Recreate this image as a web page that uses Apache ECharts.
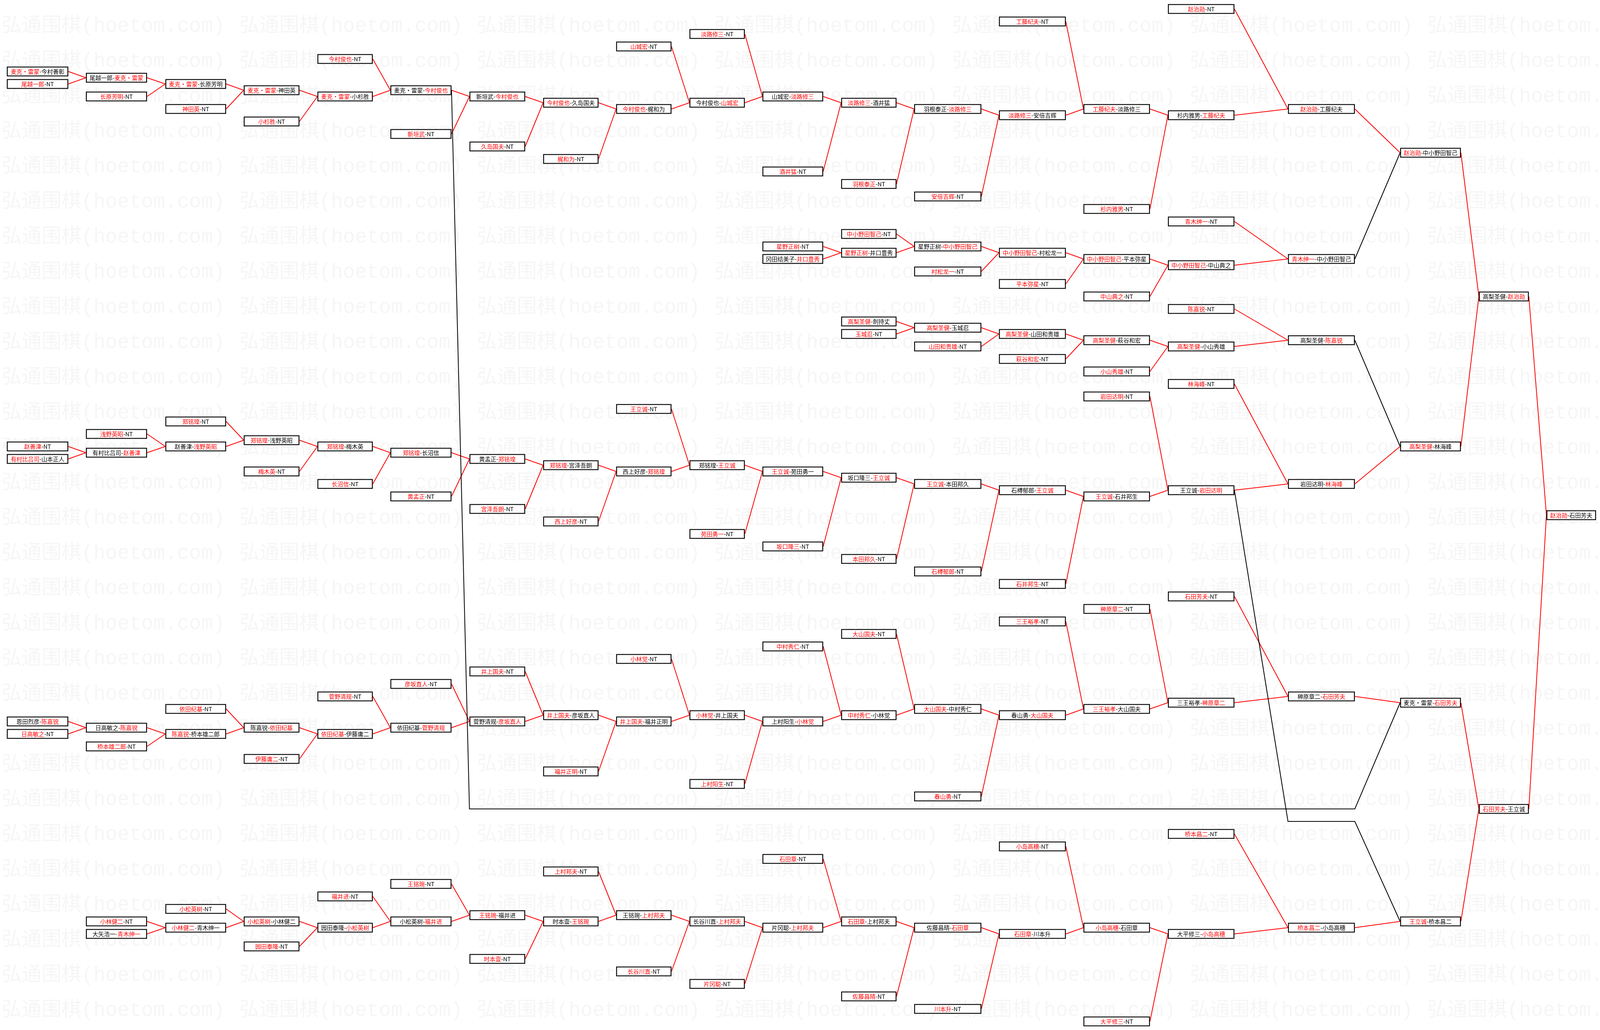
<!DOCTYPE html>
<html>
<head>
<meta charset="utf-8">
<script src="https://cdn.jsdelivr.net/npm/echarts@6/dist/echarts.min.js"></script>
<style>
html,body{margin:0;padding:0;background:#ffffff;overflow:hidden;}
#c{width:100vw;height:100vh;}
</style>
</head>
<body>
<div id="c"></div>
<script>
// ---------------- DATA ----------------
// round (column) of every match box
const rounds = [
0,0,1,1,2,2,3,3,4,4,5,5,6,6,7,7,8,8,9,9,10,10,11,11,12,12,13,13,14,14,15,15,16,
10,10,11,11,12,12,13,13,14,14,15,15,16,17,
11,11,12,12,13,13,14,14,15,15,16,
0,0,1,1,2,2,3,3,4,4,5,5,6,6,7,7,8,8,9,9,10,10,11,11,12,12,13,13,14,14,15,15,16,17,18,
0,0,1,1,2,2,3,3,4,4,5,5,6,6,7,7,8,8,9,9,10,10,11,11,12,12,13,13,14,14,15,15,16,17,
1,1,2,2,3,3,4,4,5,5,6,6,7,7,8,8,9,9,10,10,11,11,12,12,13,13,14,14,15,15,16,17,18,19
];
// vertical slot of every match box
const slots = [
10,12,11,14,12,16,13,18,14,8,13,20,14,22,15,24,16,6,15,4,14,26,15,28,16,30,17,2,16,32,17,0,16,
38,40,39,36,38,42,39,44,40,46,41,34,40,23,
50,52,51,54,52,56,53,58,54,48,53,
70,72,71,68,70,66,69,74,70,76,71,78,72,80,73,82,74,64,73,84,74,86,75,88,76,90,77,92,78,62,77,60,76,70,46,
114,116,115,118,116,112,115,120,116,110,115,108,114,106,113,122,114,104,113,124,114,102,113,100,112,126,113,98,112,96,111,94,110,111,
146,148,147,144,146,150,147,142,146,140,145,152,146,138,145,154,146,156,147,136,146,158,147,160,148,134,147,162,148,132,147,146,128,81
];
const labels = [
"麦克・雷蒙-今村善彰","尾越一郎-NT","尾越一郎-麦克・雷蒙","长原芳明-NT","麦克・雷蒙-长原芳明","神田英-NT","麦克・雷蒙-神田英","小杉胜-NT","麦克・雷蒙-小杉胜","今村俊也-NT","麦克・雷蒙-今村俊也","新垣武-NT","新垣武-今村俊也","久岛国夫-NT","今村俊也-久岛国夫","梶和为-NT","今村俊也-梶和为","山城宏-NT","今村俊也-山城宏","淡路修三-NT","山城宏-淡路修三","酒井猛-NT","淡路修三-酒井猛","羽根泰正-NT","羽根泰正-淡路修三","安倍吉辉-NT","淡路修三-安倍吉辉","工藤纪夫-NT","工藤纪夫-淡路修三","杉内雅男-NT","杉内雅男-工藤纪夫","赵治勋-NT","赵治勋-工藤纪夫",
"星野正树-NT","冈田结美子-井口豊秀","星野正树-井口豊秀","中小野田智己-NT","星野正树-中小野田智己","村松龙一-NT","中小野田智己-村松龙一","平本弥星-NT","中小野田智己-平本弥星","中山典之-NT","中小野田智己-中山典之","青木绅一-NT","青木绅一-中小野田智己","赵治勋-中小野田智己",
"高梨圣健-劍持丈","玉城忍-NT","高梨圣健-玉城忍","山田和贵雄-NT","高梨圣健-山田和贵雄","萩谷和宏-NT","高梨圣健-萩谷和宏","小山秀雄-NT","高梨圣健-小山秀雄","陈嘉锐-NT","高梨圣健-陈嘉锐",
"赵善津-NT","有村比吕司-山本正人","有村比吕司-赵善津","浅野英昭-NT","赵善津-浅野英昭","郑铭瑝-NT","郑铭瑝-浅野英昭","梅木英-NT","郑铭瑝-梅木英","长沼信-NT","郑铭瑝-长沼信","黄孟正-NT","黄孟正-郑铭瑝","宫泽吾朗-NT","郑铭瑝-宫泽吾朗","西上好彦-NT","西上好彦-郑铭瑝","王立诚-NT","郑铭瑝-王立诚","苑田勇一-NT","王立诚-苑田勇一","坂口隆三-NT","坂口隆三-王立诚","本田邦久-NT","王立诚-本田邦久","石榑郁郎-NT","石榑郁郎-王立诚","石井邦生-NT","王立诚-石井邦生","岩田达明-NT","王立诚-岩田达明","林海峰-NT","岩田达明-林海峰","高梨圣健-林海峰","高梨圣健-赵治勋",
"恩田烈彦-陈嘉锐","日高敏之-NT","日高敏之-陈嘉锐","桥本雄二郎-NT","陈嘉锐-桥本雄二郎","依田纪基-NT","陈嘉锐-依田纪基","伊藤庸二-NT","依田纪基-伊藤庸二","菅野清规-NT","依田纪基-菅野清规","彦坂直人-NT","菅野清规-彦坂直人","井上国夫-NT","井上国夫-彦坂直人","福井正明-NT","井上国夫-福井正明","小林觉-NT","小林觉-井上国夫","上村阳生-NT","上村阳生-小林觉","中村秀仁-NT","中村秀仁-小林觉","大山国夫-NT","大山国夫-中村秀仁","春山勇-NT","春山勇-大山国夫","三王裕孝-NT","三王裕孝-大山国夫","榊原章二-NT","三王裕孝-榊原章二","石田芳夫-NT","榊原章二-石田芳夫","麦克・雷蒙-石田芳夫",
"小林健二-NT","大矢浩一-青木绅一","小林健二-青木绅一","小松英树-NT","小松英树-小林健二","园田泰隆-NT","园田泰隆-小松英树","福井进-NT","小松英树-福井进","王铭琬-NT","王铭琬-福井进","时本壹-NT","时本壹-王铭琬","上村邦夫-NT","王铭琬-上村邦夫","长谷川直-NT","长谷川直-上村邦夫","片冈聪-NT","片冈聪-上村邦夫","石田章-NT","石田章-上村邦夫","佐藤昌晴-NT","佐藤昌晴-石田章","川本升-NT","石田章-川本升","小岛高穗-NT","小岛高穗-石田章","大平修三-NT","大平修三-小岛高穗","桥本昌二-NT","桥本昌二-小岛高穗","王立诚-桥本昌二","石田芳夫-王立诚","赵治勋-石田芳夫"
];
// which side of the label is the winner (shown red): 0 = left, 1 = right
const winners = [
0,0,1,0,0,0,0,0,0,0,1,0,1,0,0,0,0,0,1,0,1,0,0,0,1,0,0,0,0,0,1,0,0,
0,1,0,0,1,0,0,0,0,0,0,0,0,0,
0,0,0,0,0,0,0,0,0,0,1,
0,0,1,0,1,0,0,0,0,0,0,0,1,0,0,0,1,0,1,0,0,0,1,0,0,0,1,0,0,0,1,0,1,0,1,
1,0,1,0,0,0,1,0,0,0,1,0,1,0,0,0,0,0,0,0,1,0,0,0,0,0,1,0,0,0,1,0,1,1,
0,1,0,0,0,0,1,0,1,0,0,0,1,0,1,0,1,0,1,0,0,0,1,0,0,0,0,0,1,0,0,0,0,0
];
// next match of every box (-1 = final)
const parents = [
2,2,4,4,6,6,8,8,10,10,12,12,14,14,16,16,18,18,20,20,22,22,24,24,26,26,28,28,30,30,32,32,46,
35,35,37,37,39,39,41,41,43,43,45,45,46,92,
49,49,51,51,53,53,55,55,57,57,91,
60,60,62,62,64,64,66,66,68,68,70,70,72,72,74,74,76,76,78,78,80,80,82,82,84,84,86,86,88,88,90,90,91,92,160,
95,95,97,97,99,99,101,101,103,103,105,105,107,107,109,109,111,111,113,113,115,115,117,117,119,119,121,121,123,123,125,125,126,159,
129,129,131,131,133,133,135,135,137,137,139,139,141,141,143,143,145,145,147,147,149,149,151,151,153,153,155,155,157,157,158,159,160,-1
];
// extra routes of losing players: [from, to, routing slot]
const loserLinks = [[10,126,128],[88,158,130]];
const watermarkText = "弘通围棋(hoetom.com)";

// ---------------- LAYOUT ----------------
const REF_W = 4451, REF_H = 2637;
const COL_LEFT = [19,239,460,678,883,1086,1306,1511,1714,1918,2121,2340,2543,2779,3014,3249,3583,3895,4114,4302];
const COL_W    = [171,170,169,155,154,170,155,154,154,154,169,154,187,186,185,185,186,169,139,138];
const Y0 = 23, UNIT = 16, BOX_H = 25;
const RED = '#ff0000';
const FONT = '"Noto Sans CJK SC", sans-serif';

function names(i){ return labels[i].split('-'); }
function winnerName(i){ return names(i)[winners[i]]; }
function rightOf(i){ return COL_LEFT[rounds[i]] + COL_W[rounds[i]]; }

const chart = echarts.init(document.getElementById('c'), null, { renderer: 'canvas' });
const CW = chart.getWidth(), CH = chart.getHeight();
const sx = CW / REF_W, sy = CH / REF_H, s = Math.min(sx, sy);

const boxData = rounds.map((c, i) => [COL_LEFT[c], slots[i], i]);

const linkData = [];
parents.forEach((p, i) => {
  if (p < 0) return;
  const red = names(p).indexOf(winnerName(i)) >= 0;
  linkData.push({
    coords: [[rightOf(i), slots[i]], [COL_LEFT[rounds[p]], slots[p]]],
    lineStyle: { color: red ? RED : '#000000' }
  });
});
loserLinks.forEach(([c, p, lane]) => {
  const red = names(p).indexOf(winnerName(c)) >= 0;
  const cp = rounds[p] - 1;
  linkData.push({
    coords: [
      [rightOf(c), slots[c]],
      [COL_LEFT[rounds[c] + 1], lane],
      [COL_LEFT[cp] + COL_W[cp], lane],
      [COL_LEFT[rounds[p]], slots[p]]
    ],
    lineStyle: { color: red ? RED : '#000000' }
  });
});

// watermark (background decoration)
const wm = [];
for (let r = 0; r < 29; r++) {
  for (let k = 0; k < 7; k++) {
    wm.push({
      type: 'text', silent: true, z: 0,
      style: {
        text: watermarkText, x: (5 + 661 * k) * sx, y: (67 + 90 * r) * sy,
        verticalAlign: 'middle', align: 'left',
        fill: '#f6f6f6',
        font: Math.round(55 * s) + 'px "Liberation Mono", "Noto Sans CJK SC", monospace'
      }
    });
  }
}

const FS = 16 * s;
chart.setOption({
  backgroundColor: '#ffffff',
  animation: false,
  graphic: { elements: wm },
  grid: { left: 0, top: 0, right: 0, bottom: 0, containLabel: false },
  xAxis: { type: 'value', min: 0, max: REF_W, show: false },
  yAxis: { type: 'value', inverse: true, min: -Y0 / UNIT, max: (REF_H - Y0) / UNIT, show: false },
  series: [
    {
      type: 'lines',
      coordinateSystem: 'cartesian2d',
      polyline: true,
      z: 2,
      silent: true,
      lineStyle: { width: 2.2 * s, opacity: 1 },
      data: linkData
    },
    {
      type: 'custom',
      z: 3,
      silent: true,
      data: boxData,
      encode: { x: 0, y: 1 },
      renderItem: function (params, api) {
        const i = api.value(2);
        const c = rounds[i];
        const p0 = api.coord([api.value(0), api.value(1)]);
        const p1 = api.coord([api.value(0) + COL_W[c], api.value(1)]);
        const h = api.size([0, BOX_H / UNIT])[1];
        const lw = 2.5 * s;
        const nm = names(i);
        const txt = winners[i] === 0
          ? '{r|' + nm[0] + '}{k|-' + nm[1] + '}'
          : '{k|' + nm[0] + '-}{r|' + nm[1] + '}';
        return {
          type: 'group',
          children: [
            {
              type: 'rect',
              shape: { x: p0[0] + lw / 2, y: p0[1] - h / 2 + lw / 2, width: p1[0] - p0[0] - lw, height: h - lw },
              style: { fill: '#ffffff', stroke: '#000000', lineWidth: lw }
            },
            {
              type: 'text',
              style: {
                x: (p0[0] + p1[0]) / 2, y: p0[1] + 0.5 * s,
                align: 'center', verticalAlign: 'middle',
                text: txt,
                fontSize: FS, fontFamily: FONT,
                rich: {
                  r: { fill: RED, color: RED, fontSize: FS, fontFamily: FONT },
                  k: { fill: '#000000', color: '#000000', fontSize: FS, fontFamily: FONT }
                }
              }
            }
          ]
        };
      }
    }
  ]
});
</script>
</body>
</html>
